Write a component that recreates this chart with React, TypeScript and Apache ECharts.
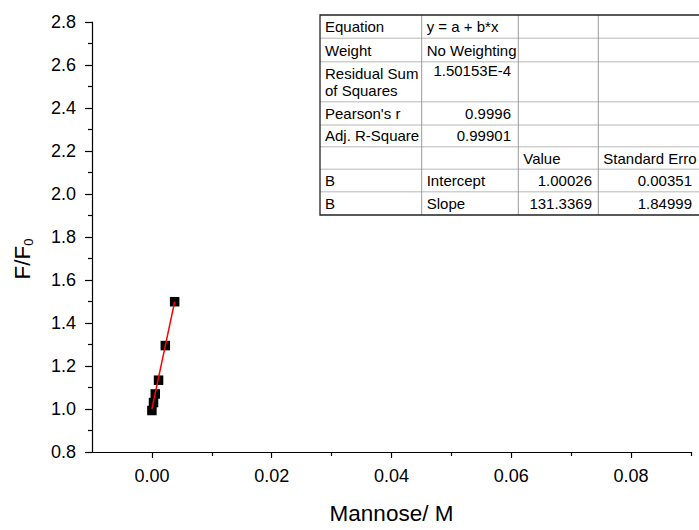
import React, { useEffect, useRef } from "react";
import * as echarts from "echarts";

// ---- data ----
const mannose = [0, 0.00027, 0.00056, 0.00111, 0.00224, 0.0038];
const ratio = [0.993, 1.03, 1.07, 1.134, 1.295, 1.499];
const fitX = [0, 0.0038];
const fitY = [1.0003, 1.4994];
const xLabelValues = [0, 0.02, 0.04, 0.06, 0.08];
const xMinorValues = [0.01, 0.03, 0.05, 0.07, 0.09];

const tableCells: string[][] = [
  ["Equation", "y = a + b*x", "", ""],
  ["Weight", "No Weighting", "", ""],
  ["Residual Sum\nof Squares", "1.50153E-4", "", ""],
  ["Pearson's r", "0.9996", "", ""],
  ["Adj. R-Square", "0.99901", "", ""],
  ["", "", "Value", "Standard Erro"],
  ["B", "Intercept", "1.00026", "0.00351"],
  ["B", "Slope", "131.3369", "1.84999"],
];
// alignment per cell: l = left, r = right
const tableAlign: string[][] = [
  ["l", "l", "l", "l"],
  ["l", "l", "l", "l"],
  ["l", "r", "l", "l"],
  ["l", "r", "l", "l"],
  ["l", "r", "l", "l"],
  ["l", "l", "l", "l"],
  ["l", "l", "r", "r"],
  ["l", "l", "r", "r"],
];

const FONT = "Arial, 'Liberation Sans', sans-serif";

function buildTable() {
  const cols = [320, 421.7, 518.3, 598.3, 712];
  const rightEdge = [0, 511, 592, 692];
  const rows = [15, 38.3, 61.7, 101.7, 125, 146.7, 169.3, 191.7, 215];
  const els: any[] = [];
  els.push({
    type: "rect",
    shape: { x: cols[0], y: rows[0], width: cols[4] - cols[0], height: rows[8] - rows[0] },
    style: { fill: "#fff", stroke: "none" },
    z: 10,
  });
  for (let r = 1; r < rows.length - 1; r++) {
    els.push({
      type: "line",
      shape: { x1: cols[0], y1: rows[r], x2: cols[4], y2: rows[r] },
      style: { stroke: "#cfcfcf", lineWidth: 1.5 },
      z: 11,
    });
  }
  for (let c = 1; c < cols.length - 1; c++) {
    els.push({
      type: "line",
      shape: { x1: cols[c], y1: rows[0], x2: cols[c], y2: rows[8] },
      style: { stroke: "#9a9a9a", lineWidth: 1 },
      z: 11,
    });
  }
  // outer border
  els.push({
    type: "polyline",
    shape: { points: [[cols[4], rows[0]], [cols[0], rows[0]], [cols[0], rows[8]], [cols[4], rows[8]]] },
    style: { stroke: "#222", lineWidth: 1.3, fill: "none" },
    z: 12,
  });
  tableCells.forEach((row, ri) => {
    row.forEach((txt, ci) => {
      if (!txt) return;
      const al = tableAlign[ri][ci];
      const multi = txt.indexOf("\n") >= 0;
      const x = al === "l" ? cols[ci] + 5 : rightEdge[ci];
      let y = (rows[ri] + rows[ri + 1]) / 2;
      let va = "middle";
      if (ri === 2) {
        if (multi) {
          y = rows[ri] + 3;
          va = "top";
        } else {
          y = rows[ri] + 9;
        }
      }
      els.push({
        type: "text",
        x,
        y,
        z: 13,
        style: {
          text: txt,
          fontSize: 15,
          fontFamily: FONT,
          fill: "#000",
          align: al === "l" ? "left" : "right",
          verticalAlign: va,
          lineHeight: 17,
        },
      });
    });
  });
  return els;
}

export default function App() {
  const ref = useRef<HTMLDivElement>(null);
  useEffect(() => {
    if (!ref.current) return;
    const chart = echarts.init(ref.current, null, { renderer: "svg" });
    chart.setOption({
      animation: false,
      backgroundColor: "#fff",
      grid: { left: 92, right: 8, top: 22, bottom: 69, containLabel: false },
      xAxis: [
        {
          type: "value",
          min: -0.01,
          max: 0.09,
          name: "Mannose/ M",
          nameLocation: "middle",
          nameGap: 50,
          nameTextStyle: { fontSize: 22.5, fontFamily: FONT, color: "#000" },
          axisLine: { show: true, onZero: false, lineStyle: { color: "#000", width: 1.2 } },
          axisTick: { show: true, inside: false, length: 6, customValues: xLabelValues, lineStyle: { color: "#000", width: 1.2 } },
          axisLabel: {
            show: true,
            margin: 15,
            customValues: xLabelValues,
            formatter: (v: number) => v.toFixed(2),
            fontSize: 18,
            fontFamily: FONT,
            color: "#000",
          },
          splitLine: { show: false },
        },
        {
          type: "value",
          position: "bottom",
          min: -0.01,
          max: 0.09,
          axisLine: { show: false, onZero: false },
          axisTick: { show: true, inside: false, length: 4, customValues: xMinorValues, lineStyle: { color: "#000", width: 1.2 } },
          axisLabel: { show: false },
          splitLine: { show: false },
        },
      ],
      yAxis: {
        type: "value",
        min: 0.8,
        max: 2.8,
        interval: 0.2,
        name: "{a|F/F}{b|0}",
        nameLocation: "middle",
        nameRotate: 90,
        nameGap: 57,
        nameTextStyle: {
          fontSize: 22.5,
          fontFamily: FONT,
          color: "#000",
          padding: [0, 44, 0, 0],
          rich: {
            a: { fontSize: 22.5, fontFamily: FONT, color: "#000", lineHeight: 26 },
            b: { fontSize: 13, fontFamily: FONT, color: "#000", lineHeight: 13, verticalAlign: "bottom" },
          },
        },
        axisLine: { show: true, onZero: false, lineStyle: { color: "#000", width: 1.2 } },
        axisTick: { show: true, inside: false, length: 7, lineStyle: { color: "#000", width: 1.2 } },
        minorTick: { show: true, splitNumber: 2, length: 4, lineStyle: { color: "#000", width: 1.2 } },
        axisLabel: {
          margin: 16,
          formatter: (v: number) => v.toFixed(1),
          fontSize: 18,
          fontFamily: FONT,
          color: "#000",
        },
        splitLine: { show: false },
        minorSplitLine: { show: false },
      },
      series: [
        {
          type: "scatter",
          xAxisIndex: 0,
          data: mannose.map((x, i) => [x, ratio[i]]),
          symbol: "rect",
          symbolSize: 9.5,
          itemStyle: { color: "#000", opacity: 1 },
          z: 2,
        },
        {
          type: "line",
          xAxisIndex: 0,
          data: fitX.map((x, i) => [x, fitY[i]]),
          showSymbol: false,
          symbol: "none",
          lineStyle: { color: "#ff0000", width: 1.5 },
          z: 3,
        },
      ],
      graphic: buildTable(),
    });
    return () => chart.dispose();
  }, []);
  return <div ref={ref} style={{ width: 699, height: 530, position: "absolute", left: 0, top: 0 }} />;
}
